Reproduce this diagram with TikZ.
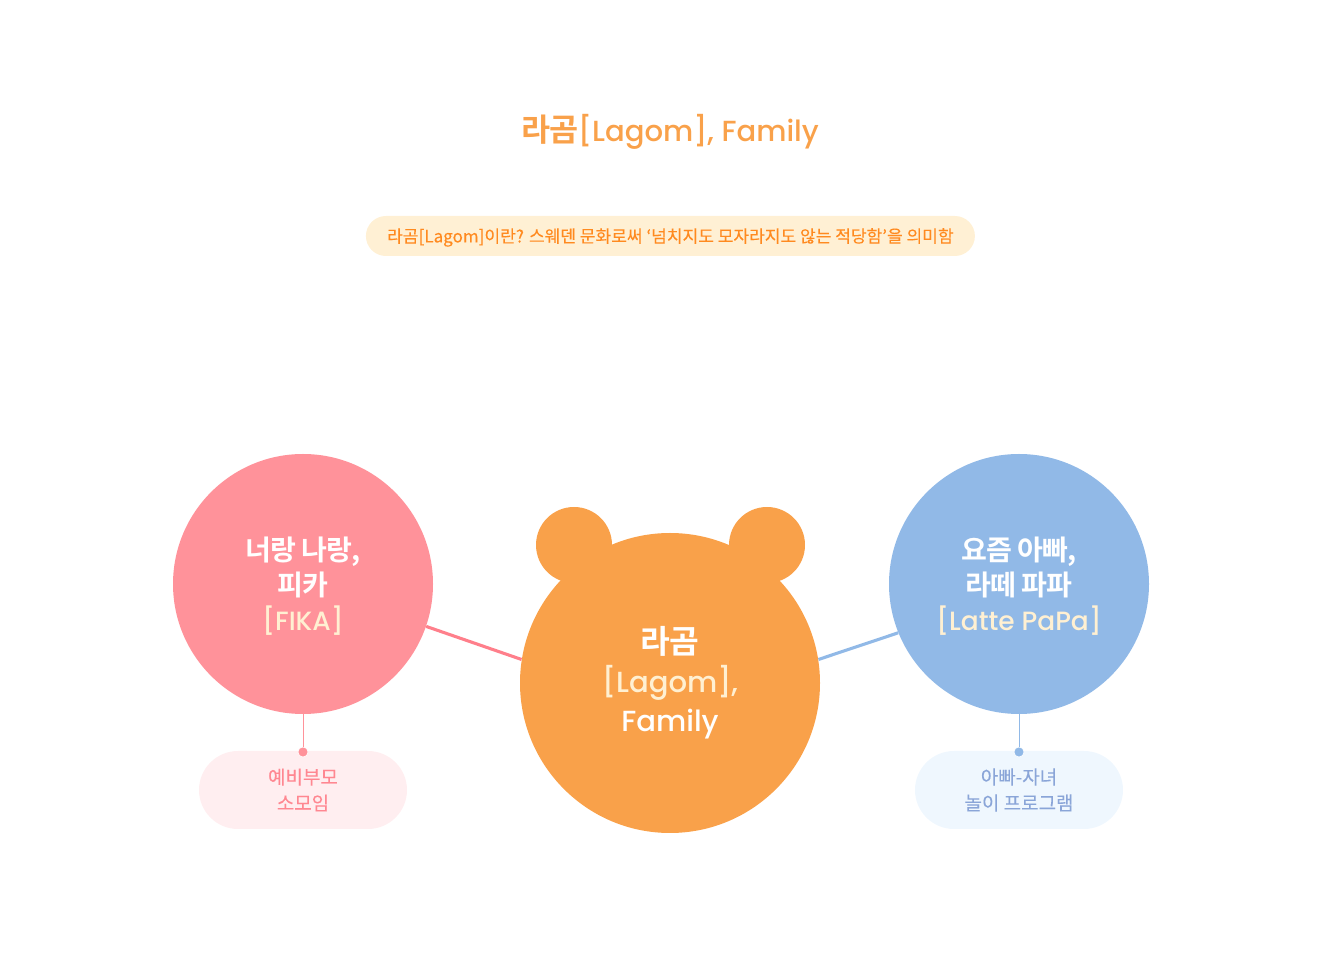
\documentclass[tikz,border=0pt]{standalone}
\usepackage{fontspec}
\usepackage{xcolor}
\setmainfont[FakeBold=0.1]{Noto Sans CJK KR}
\newfontfamily\krfont[LetterSpace=-4,BoldFont={Noto Sans CJK KR Bold}]{Noto Sans CJK KR}
\newfontfamily\latfont{Poppins Medium}
\definecolor{lagomorange}{HTML}{F9A14A}
\definecolor{subtext}{HTML}{FF8A1F}
\definecolor{subfill}{HTML}{FFF0D4}
\definecolor{fikapink}{HTML}{FF929A}
\definecolor{fikaline}{HTML}{FF7F8B}
\definecolor{fikafill}{HTML}{FFEEF0}
\definecolor{pinktext}{HTML}{FF8791}
\definecolor{papablue}{HTML}{91B9E7}
\definecolor{papafill}{HTML}{EFF7FE}
\definecolor{bluetext}{HTML}{8AA5D8}
\definecolor{cream}{HTML}{FFF0D2}
\newcommand{\topgap}[1]{\rule{0pt}{#1}}
\tikzset{
  ball/.style={circle, inner sep=0pt, align=center, text=white},
  pill/.style={rounded corners=0.975cm, minimum width=5.2cm, minimum height=1.95cm, inner sep=0pt, align=center, font=\fontsize{13.5}{18.5}\selectfont},
  dot/.style={circle, inner sep=0pt, minimum size=0.25cm, draw=white, line width=0.4pt},
}
\begin{document}
\begin{tikzpicture}
  \useasboundingbox (0,0) rectangle (33.5,24.325);
  \node[text=lagomorange, font=\fontsize{20.7}{26}\selectfont] at (16.75,21.03) (title) {{\fontsize{22.5}{26}\selectfont\krfont\bfseries 라곰}{\latfont[Lagom], Family}};
  \node[fill=subfill, text=subtext, rounded corners=0.5cm, minimum width=15.225cm, minimum height=1cm, inner sep=0pt, font=\fontsize{12.13}{14}\selectfont] at (16.76,18.425) (sub) {\topgap{12.2pt}라곰[Lagom]이란? 스웨덴 문화로써 ‘넘치지도 모자라지도 않는 적당함’을 의미함};

  \node[ball, fill=lagomorange, minimum size=1.9cm] at (14.35,10.7) (earl) {};
  \node[ball, fill=lagomorange, minimum size=1.9cm] at (19.175,10.7) (earr) {};
  \node[ball, fill=lagomorange, minimum size=7.5cm, font=\fontsize{20.7}{27.8}\selectfont] at (16.75,7.25) (lagom) {{\fontsize{23}{27.8}\selectfont\krfont\bfseries 라곰}\\{\latfont\color{cream}[Lagom],}\\{\latfont Family}};
  \node[ball, fill=fikapink, minimum size=6.5cm, font=\fontsize{20}{24.8}\selectfont] at (7.575,9.725) (fika) {\topgap{19.6pt}{\krfont\bfseries 너랑 나랑,}\\{\krfont\bfseries 피카}\\{\fontsize{18.8}{24.8}\selectfont\latfont\color{cream}[FIKA]}};
  \node[ball, fill=papablue, minimum size=6.5cm, font=\fontsize{20}{24.8}\selectfont] at (25.475,9.725) (papa) {\topgap{19.6pt}{\krfont\bfseries 요즘 아빠,}\\{\krfont\bfseries 라떼 파파}\\{\fontsize{18.8}{24.8}\selectfont\latfont\color{cream}[Latte PaPa]}};

  \node[pill, fill=fikafill, text=pinktext] at (7.575,4.575) (fikanote) {예비부모\\소모임};
  \node[pill, fill=papafill, text=bluetext] at (25.475,4.575) (papanote) {아빠-자녀\\놀이 프로그램};
  \node[dot, fill=fikapink] at (7.575,5.525) (fikadot) {};
  \node[dot, fill=papablue] at (25.475,5.525) (papadot) {};

  \draw[fikaline, line width=2.2pt] (fika.-19.7)--(lagom.171.5);
  \draw[papablue, line width=2.2pt] (papa.-158.6)--(lagom.9.2);
  \draw[fikapink, line width=0.7pt] (fika.south)--(fikadot);
  \draw[papablue, line width=0.7pt] (papa.south)--(papadot);
\end{tikzpicture}
\end{document}
